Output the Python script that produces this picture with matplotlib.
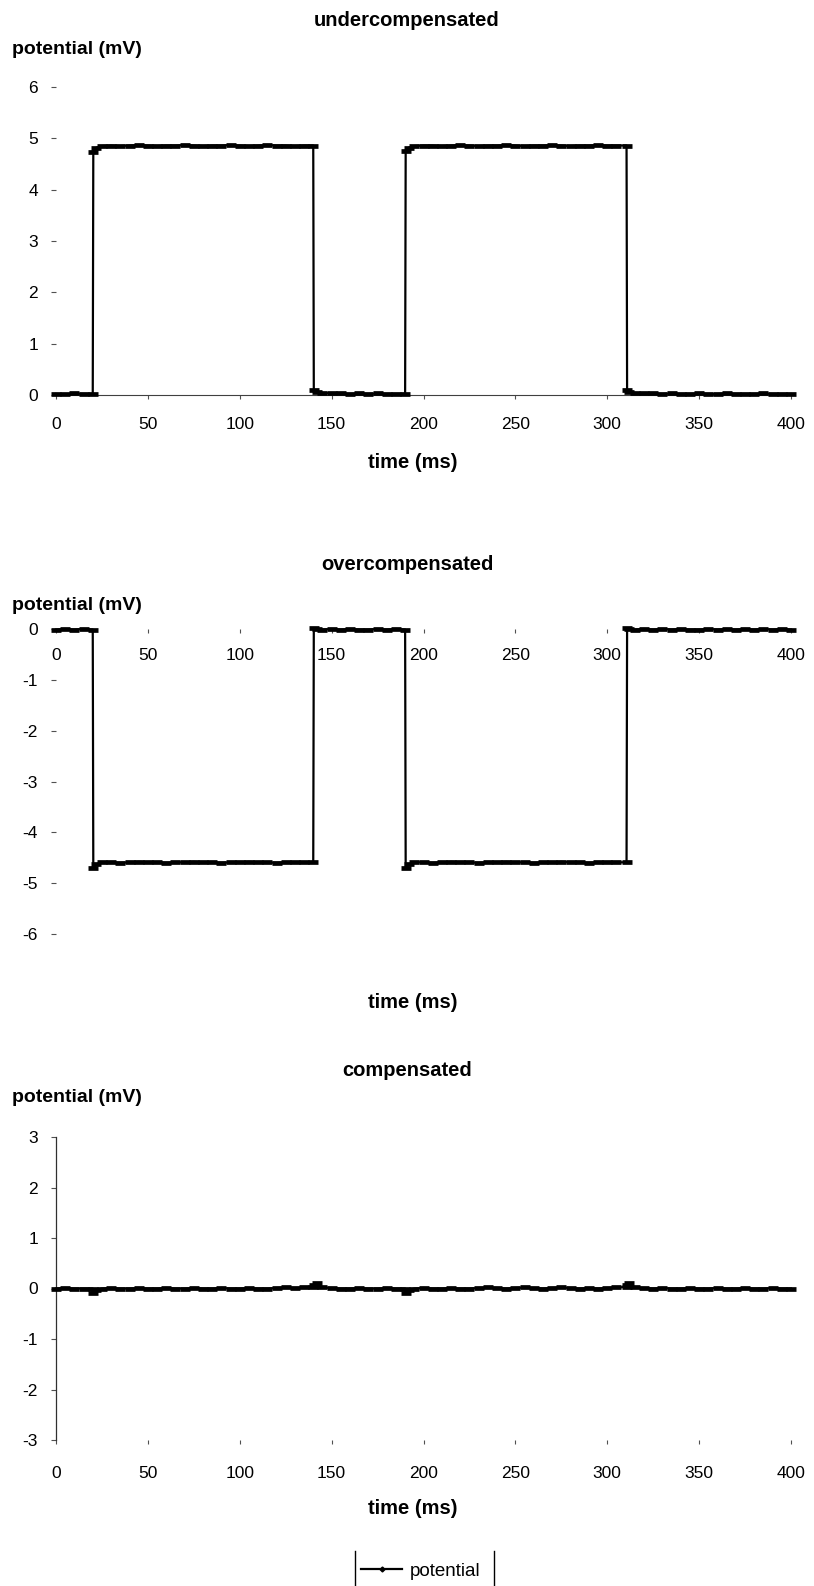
import matplotlib
matplotlib.use("Agg")
import matplotlib.pyplot as plt
from matplotlib.lines import Line2D

plt.rcParams['font.family'] = ['Liberation Sans', 'DejaVu Sans']
plt.rcParams['axes.unicode_minus'] = False

# ---------------- data ----------------
time_ms = [0, 5, 10, 15, 20, 20.3, 22,
           25, 30, 35, 40, 45, 50, 55, 60, 65, 70, 75, 80, 85, 90, 95, 100,
           105, 110, 115, 120, 125, 130, 135, 140,
           140.3, 142,
           145, 150, 155, 160, 165, 170, 175, 180, 185, 190,
           190.3, 192,
           195, 200, 205, 210, 215, 220, 225, 230, 235, 240, 245, 250, 255,
           260, 265, 270, 275, 280, 285, 290, 295, 300, 305,
           310.5, 310.8, 312,
           315, 320, 325, 330, 335, 340, 345, 350, 355, 360, 365, 370, 375,
           380, 385, 390, 395, 400]

under_mV = [0.02, 0.01, 0.03, 0.02, 0.02, 4.74, 4.82,
            4.85, 4.86, 4.85, 4.86, 4.87, 4.86, 4.85, 4.86, 4.86, 4.87, 4.86, 4.85,
            4.86, 4.86, 4.87, 4.86, 4.85, 4.86, 4.87, 4.86, 4.86, 4.85, 4.86, 4.86,
            0.09, 0.05,
            0.04, 0.03, 0.03, 0.02, 0.03, 0.02, 0.03, 0.02, 0.02, 0.02,
            4.75, 4.82,
            4.85, 4.86, 4.86, 4.85, 4.86, 4.87, 4.86, 4.85, 4.86, 4.86, 4.87, 4.86,
            4.85, 4.86, 4.86, 4.87, 4.86, 4.85, 4.86, 4.86, 4.87, 4.86, 4.86,
            4.86, 0.09, 0.05,
            0.04, 0.03, 0.03, 0.02, 0.03, 0.02, 0.02, 0.03, 0.02, 0.02, 0.03, 0.02,
            0.02, 0.02, 0.03, 0.02, 0.02, 0.02]

over_mV = [-0.01, 0.0, -0.01, 0.0, -0.01, -4.70, -4.63,
           -4.59, -4.59, -4.60, -4.59, -4.58, -4.59, -4.59, -4.60, -4.59, -4.59, -4.58, -4.59,
           -4.59, -4.60, -4.59, -4.59, -4.58, -4.59, -4.59, -4.60, -4.59, -4.59, -4.59, -4.59,
           0.02, 0.0,
           -0.01, 0.0, -0.01, 0.0, -0.01, -0.01, 0.0, -0.01, 0.0, -0.01,
           -4.70, -4.63,
           -4.59, -4.59, -4.60, -4.59, -4.58, -4.59, -4.59, -4.60, -4.59, -4.59, -4.58, -4.59,
           -4.59, -4.60, -4.59, -4.59, -4.58, -4.59, -4.59, -4.60, -4.59, -4.59, -4.59,
           -4.59, 0.02, 0.0,
           -0.01, 0.0, -0.01, 0.0, -0.01, 0.0, -0.01, -0.01, 0.0, -0.01, 0.0, -0.01,
           0.0, -0.01, 0.0, -0.01, 0.0, -0.01]

comp_mV = [0.0, 0.01, 0.0, 0.0, 0.0, -0.08, -0.03,
           0.0, 0.01, 0.0, 0.0, 0.01, 0.0, 0.0, 0.01, 0.0, 0.0, 0.01, 0.0,
           0.0, 0.01, 0.0, 0.0, 0.01, 0.0, 0.0, 0.01, 0.02, 0.01, 0.02, 0.03,
           0.06, 0.1,
           0.02, 0.01, 0.0, 0.0, 0.01, 0.0, 0.0, 0.01, 0.0, 0.0,
           -0.08, -0.03,
           0.0, 0.01, 0.0, 0.0, 0.01, 0.0, 0.0, 0.01, 0.02, 0.01, 0.0, 0.01,
           0.02, 0.01, 0.0, 0.01, 0.02, 0.01, 0.0, 0.01, 0.0, 0.01, 0.02,
           0.03, 0.06, 0.1,
           0.02, 0.01, 0.0, 0.01, 0.0, 0.0, 0.01, 0.0, 0.0, 0.01, 0.0, 0.0,
           0.01, 0.0, 0.0, 0.01, 0.0, 0.0]

x_ticks = [0, 50, 100, 150, 200, 250, 300, 350, 400]
titles = ["undercompensated", "overcompensated", "compensated"]
y_label = "potential (mV)"
x_label = "time (ms)"
legend_label = "potential"

# ---------------- figure ----------------
W, H = 814, 1586
fig = plt.figure(figsize=(W / 100, H / 100), dpi=100)

def fx(px):
    return px / W

def fy(py):
    return 1 - py / H

def make_axes(top_px, bottom_px):
    return fig.add_axes([fx(56), fy(bottom_px), fx(791) - fx(56), (bottom_px - top_px) / H])

TICK_COL = '#505050'
TICK_FS = 12.5

def draw_series(ax, values):
    ax.plot(time_ms, values, color='black', lw=1.6, clip_on=False, zorder=3)
    ax.plot(time_ms, values, linestyle='none', marker='_', markersize=7,
            markeredgewidth=3.4, color='black', clip_on=False, zorder=3)

# ---- chart 1: undercompensated ----
ax1 = make_axes(87, 395)
draw_series(ax1, under_mV)
ax1.set_xlim(0, 400)
ax1.set_ylim(0, 6)
ax1.set_xticks(x_ticks)
ax1.set_yticks(range(0, 7))
for s in ['top', 'right', 'left']:
    ax1.spines[s].set_visible(False)
ax1.spines['bottom'].set_color('#404040')
ax1.spines['bottom'].set_linewidth(0.8)
ax1.tick_params(axis='x', direction='out', length=3, color=TICK_COL, labelsize=TICK_FS, pad=12.5)
ax1.tick_params(axis='y', direction='out', length=3.5, color=TICK_COL, labelsize=TICK_FS, pad=9.5)

# ---- chart 2: overcompensated ----
ax2 = make_axes(629, 934)
draw_series(ax2, over_mV)
ax2.set_xlim(0, 400)
ax2.set_ylim(-6, 0)
ax2.set_xticks(x_ticks)
ax2.set_yticks(range(-6, 1))
for s in ['top', 'right', 'left']:
    ax2.spines[s].set_visible(False)
ax2.spines['bottom'].set_position(('data', 0))
ax2.spines['bottom'].set_color('none')
ax2.tick_params(axis='x', direction='out', length=3, color=TICK_COL, labelsize=TICK_FS, pad=10.5)
ax2.tick_params(axis='y', direction='out', length=3.5, color=TICK_COL, labelsize=TICK_FS, pad=9.5)

# ---- chart 3: compensated ----
ax3 = make_axes(1137, 1440)
draw_series(ax3, comp_mV)
ax3.set_xlim(0, 400)
ax3.set_ylim(-3, 3)
ax3.set_xticks(x_ticks)
ax3.set_yticks(range(-3, 4))
for s in ['top', 'right', 'bottom']:
    ax3.spines[s].set_visible(False)
ax3.spines['left'].set_color('#303030')
ax3.spines['left'].set_linewidth(0.9)
ax3.tick_params(axis='x', direction='out', length=3, color=TICK_COL, labelsize=TICK_FS, pad=15.5)
ax3.tick_params(axis='y', direction='out', length=3.5, color=TICK_COL, labelsize=TICK_FS, pad=9.5)

# ---- texts ----
for title, ty in zip(titles, [21, 565, 1071]):
    fig.text(fx(407), fy(ty), title, ha='center', va='center', fontsize=14.5, fontweight='bold')
for ly in [49, 606, 1097]:
    fig.text(fx(12), fy(ly), y_label, ha='left', va='center', fontsize=14, fontweight='bold')
for xy in [463, 1003, 1508]:
    fig.text(fx(413), fy(xy), x_label, ha='center', va='center', fontsize=14.5, fontweight='bold')

# ---- legend ----
handle = Line2D([], [], color='black', lw=1.6, marker='D', markersize=2.5)
fig.legend(handles=[handle], labels=[legend_label], loc='center left',
           bbox_to_anchor=(fx(361), fy(1571)), frameon=False, fontsize=13.5,
           handlelength=2.2, handletextpad=0.42, borderpad=0, borderaxespad=0)
for bx in [355, 494]:
    fig.add_artist(Line2D([fx(bx), fx(bx)], [fy(1551), fy(1586)], color='black', lw=1.0))

fig.savefig("out.png", dpi=100, facecolor='white')
